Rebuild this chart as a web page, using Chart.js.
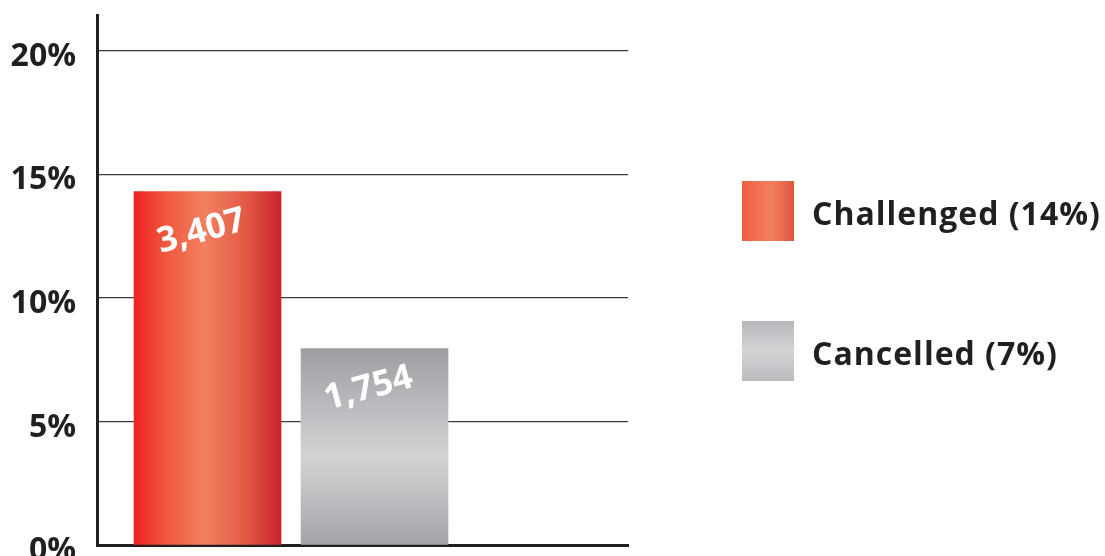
<!DOCTYPE html>
<html>
<head>
<meta charset="utf-8">
<script src="https://cdn.jsdelivr.net/npm/chart.js@4.4.1/dist/chart.umd.min.js"></script>
<style>
  html, body { margin: 0; padding: 0; background: #fff; }
  #wrap { width: 1105px; height: 556px; }
</style>
</head>
<body>
<div id="wrap"><canvas id="projectChart"></canvas></div>
<script>
let categories = ["Challenged", "Cancelled"];
let shares = [14.3, 7.95];
let counts = ["3,407", "1,754"];
let legendLabels = ["Challenged (14%)", "Cancelled (7%)"];
let yTicks = [0, 5, 10, 15, 20];

let fontFamily = "'Open Sans', Lato, sans-serif";
let ink = "#231f20";
let barWidth = 147;

function redFill(ctx, x0, x1) {
  let g = ctx.createLinearGradient(x0, 0, x1, 0);
  g.addColorStop(0, "rgb(237,32,36)");
  g.addColorStop(0.22, "rgb(240,88,62)");
  g.addColorStop(0.48, "rgb(243,128,96)");
  g.addColorStop(0.75, "rgb(226,92,70)");
  g.addColorStop(1, "rgb(205,34,44)");
  return g;
}

function grayFill(ctx, y0, y1) {
  let g = ctx.createLinearGradient(0, y0, 0, y1);
  g.addColorStop(0, "rgb(158,159,163)");
  g.addColorStop(0.55, "rgb(210,211,213)");
  g.addColorStop(1, "rgb(163,164,168)");
  return g;
}

// rotated counts inside the bars + the legend on the right
let decorations = {
  id: "decorations",
  afterDatasetsDraw(chart) {
    let ctx = chart.ctx;
    let bars = chart.getDatasetMeta(0).data;
    ctx.save();
    ctx.fillStyle = "#ffffff";
    ctx.font = "bold 35px " + fontFamily;
    ctx.textAlign = "center";
    ctx.textBaseline = "middle";
    bars.forEach((bar, i) => {
      ctx.save();
      ctx.translate(bar.x - 6, bar.y + 40);
      ctx.rotate(-15 * Math.PI / 180);
      ctx.fillText(counts[i], 0, 0);
      ctx.restore();
    });
    ctx.restore();
  },
  afterDraw(chart) {
    let ctx = chart.ctx;
    let left = chart.chartArea.right + 114;
    let tops = [181, 321];
    ctx.save();
    legendLabels.forEach((label, i) => {
      let top = tops[i];
      let g;
      if (i === 0) {
        g = ctx.createLinearGradient(left, 0, left + 52, 0);
        g.addColorStop(0, "rgb(240,92,64)");
        g.addColorStop(0.55, "rgb(243,128,96)");
        g.addColorStop(1, "rgb(222,86,64)");
      } else {
        g = ctx.createLinearGradient(0, top, 0, top + 60);
        g.addColorStop(0, "rgb(182,183,187)");
        g.addColorStop(0.5, "rgb(210,211,213)");
        g.addColorStop(1, "rgb(186,187,191)");
      }
      ctx.fillStyle = g;
      ctx.fillRect(left, top, 52, 60);
      ctx.fillStyle = ink;
      ctx.font = "bold 32px " + fontFamily;
      ctx.letterSpacing = "1px";
      ctx.textAlign = "left";
      ctx.textBaseline = "alphabetic";
      ctx.fillText(label, left + 70, top + 44);
    });
    ctx.restore();
  }
};

let config = {
  type: "bar",
  data: {
    labels: categories,
    datasets: [
      {
        label: "Share of projects",
        data: shares.map((v, i) => ({ x: i + 1, y: v })),
        backgroundColor: (c) => {
          let chart = c.chart;
          let xs = chart.scales.x, ys = chart.scales.y;
          if (!chart.chartArea || !xs || !ys) return "#ccc";
          if (c.dataIndex === 0) {
            let cx = xs.getPixelForValue(1);
            if (!isFinite(cx)) return "#ee4433";
            return redFill(chart.ctx, cx - barWidth / 2, cx + barWidth / 2);
          }
          let top = ys.getPixelForValue(shares[1]);
          let base = ys.getPixelForValue(0);
          if (!isFinite(top) || !isFinite(base)) return "#bbb";
          return grayFill(chart.ctx, top, base);
        },
        borderWidth: 0,
        barThickness: barWidth,
      },
    ],
  },
  options: {
    responsive: true,
    maintainAspectRatio: false,
    animation: false,
    layout: { padding: { top: 15, right: 477, bottom: 0, left: 0 } },
    plugins: {
      legend: { display: false },
      tooltip: { enabled: false },
    },
    scales: {
      x: {
        type: "linear",
        offset: false,
        min: 0.338,
        max: 3.518,
        grid: { display: false },
        ticks: { display: false },
        border: { display: true, color: ink, width: 3 },
        afterFit(scale) {
          scale.height = 11;
          scale.paddingLeft = 0;
          scale.paddingRight = 0;
        },
      },
      y: {
        min: 0,
        max: 21.45,
        afterBuildTicks(scale) {
          scale.ticks = yTicks.map((v) => ({ value: v }));
        },
        ticks: {
          padding: 21,
          labelOffset: 6,
          color: ink,
          font: { family: fontFamily, size: 32, weight: "bold" },
          callback: (v) => v + "%",
        },
        grid: {
          color: (c) => (c.tick && c.tick.value === 0 ? "rgba(0,0,0,0)" : "#3a3a3a"),
          lineWidth: 1.3,
          drawTicks: false,
        },
        border: { display: true, color: ink, width: 3 },
        afterFit(scale) {
          scale.width = 97;
          scale.paddingTop = 0;
          scale.paddingBottom = 0;
        },
      },
    },
  },
  plugins: [decorations],
};

let projectChart = new Chart(document.getElementById("projectChart"), config);
</script>
</body>
</html>
